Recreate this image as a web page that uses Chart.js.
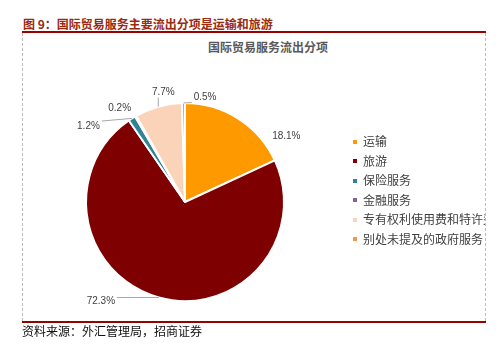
<!DOCTYPE html>
<html>
<head>
<meta charset="utf-8">
<script src="https://cdn.jsdelivr.net/npm/chart.js@4/dist/chart.umd.min.js"></script>
<style>
  body { margin: 0; background: #fff; width: 503px; height: 354px; position: relative; overflow: hidden;
         font-family: "Noto Sans CJK SC", sans-serif; }
  .abs { position: absolute; white-space: nowrap; }
  #heading { left: 23px; top: 16px; line-height: 16px; font-size: 12px; font-weight: bold; color: #9a2a10; }
  #topLine { left: 22px; top: 31px; width: 464px; height: 2px; background: #990000; }
  #bottomLine { left: 22px; top: 321px; width: 464px; height: 2px; background: #990000; }
  #leftDash { left: 22px; top: 33px; height: 288px; border-left: 1px dashed #bdbdbd; }
  #rightDash { left: 485px; top: 33px; height: 288px; border-left: 1px dashed #bdbdbd; }
  #chartTitle { left: 168px; width: 200px; top: 39px; line-height: 16px; text-align: center;
                font-size: 12px; font-weight: bold; color: #595959; }
  #source { left: 22px; top: 323px; line-height: 16px; font-size: 12px; color: #111; }
  #legend { left: 352px; top: 131px; width: 133px; overflow: hidden; }
  .item { height: 19.5px; line-height: 19.5px; font-size: 12px; color: #404040; white-space: nowrap; }
  .box { display: inline-block; width: 4px; height: 4px; margin: 0 6px 2px 1px; vertical-align: middle; }
  #chartWrap { left: 22px; top: 33px; width: 464px; height: 289px; }
</style>
</head>
<body>
<div class="abs" id="heading">图 9：国际贸易服务主要流出分项是运输和旅游</div>
<div class="abs" id="topLine"></div>
<div class="abs" id="leftDash"></div>
<div class="abs" id="rightDash"></div>
<div class="abs" id="chartTitle">国际贸易服务流出分项</div>
<div class="abs" id="chartWrap"><canvas id="myChart" width="464" height="289"></canvas></div>
<div class="abs" id="legend"></div>
<div class="abs" id="bottomLine"></div>
<div class="abs" id="source">资料来源：外汇管理局，招商证券</div>

<script>
// 数据
const categories = ['运输', '旅游', '保险服务', '金融服务', '专有权利使用费和特许费', '别处未提及的政府服务'];
const shares = [18.1, 72.3, 1.2, 0.2, 7.7, 0.5];
const colors = ['#ff9900', '#7f0000', '#2e8494', '#8064a2', '#fad3b8', '#f79646'];

// label placement relative to the slice edge (Excel "best fit")
const labelOffsets = [[48, 18], [-58, 3.5], [-43.5, 7.6], [-16, -8], [5, -14], [21.6, -5.5]];
const leaderLines = [false, true, true, false, true, true];

// legend
const legend = document.getElementById('legend');
categories.forEach((name, i) => {
  const row = document.createElement('div');
  row.className = 'item';
  row.innerHTML = '<span class="box" style="background:' + colors[i] + '"></span>' + name;
  legend.appendChild(row);
});

const outsideLabels = {
  id: 'outsideLabels',
  afterDatasetsDraw(chart) {
    const ctx = chart.ctx;
    const arcs = chart.getDatasetMeta(0).data;
    ctx.save();
    ctx.font = '10px "Liberation Sans", Arial, sans-serif';
    ctx.textAlign = 'center';
    ctx.textBaseline = 'middle';
    arcs.forEach((arc, i) => {
      const p = arc.getProps(['x', 'y', 'startAngle', 'endAngle', 'outerRadius'], true);
      const mid = (p.startAngle + p.endAngle) / 2;
      const ex = p.x + Math.cos(mid) * p.outerRadius;
      const ey = p.y + Math.sin(mid) * p.outerRadius;
      const lx = ex + labelOffsets[i][0];
      const ly = ey + labelOffsets[i][1];
      const text = shares[i].toFixed(1) + '%';
      const w = ctx.measureText(text).width;
      if (leaderLines[i]) {
        const tx = Math.min(Math.max(ex, lx - w / 2 - 2), lx + w / 2 + 2);
        const ty = Math.min(Math.max(ey, ly - 5), ly + 5);
        ctx.strokeStyle = '#a6a6a6';
        ctx.lineWidth = 1;
        ctx.beginPath();
        ctx.moveTo(ex, ey);
        ctx.lineTo(tx, ty);
        ctx.stroke();
      }
      ctx.fillStyle = '#404040';
      ctx.fillText(text, lx, ly);
    });
    ctx.restore();
  }
};

new Chart(document.getElementById('myChart'), {
  type: 'pie',
  data: {
    labels: categories,
    datasets: [{
      data: shares,
      backgroundColor: colors,
      borderColor: '#ffffff',
      borderWidth: 2,
      hoverBorderWidth: 2,
      offset: 0,
      hoverOffset: 0
    }]
  },
  options: {
    responsive: false,
    animation: false,
    layout: { padding: { left: 63, right: 201, top: 69, bottom: 20 } },
    plugins: {
      legend: { display: false },
      tooltip: { enabled: false }
    }
  },
  plugins: [outsideLabels]
});
</script>
</body>
</html>
